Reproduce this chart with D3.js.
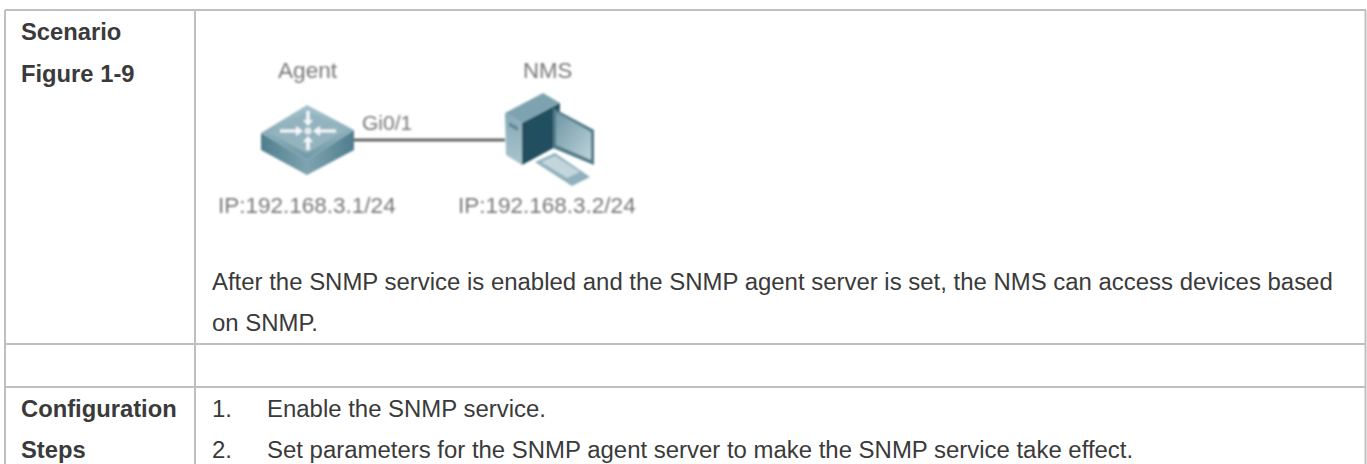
<!DOCTYPE html>
<html><head><meta charset="utf-8">
<script src="https://cdn.jsdelivr.net/npm/d3@7/dist/d3.min.js"></script>
<style>html,body{margin:0;padding:0;background:#fff}svg{display:block}</style>
</head><body><div id="c"></div>
<script>
const headings = ["Scenario","Figure 1-9","Configuration","Steps"];
const bodyLines = ["After the SNMP service is enabled and the SNMP agent server is set, the NMS can access devices based","on SNMP."];
const stepNumbers = ["1.","2."];
const stepLines = ["Enable the SNMP service.","Set parameters for the SNMP agent server to make the SNMP service take effect."];
const diagramLabels = ["Agent","NMS","Gi0/1","IP:192.168.3.1/24","IP:192.168.3.2/24"];

const svg = d3.select("#c").append("svg").attr("width",1367).attr("height",464);
const defs = svg.append("defs");
defs.append("filter").attr("id","blur").attr("x","-10%").attr("y","-10%").attr("width","120%").attr("height","120%")
  .append("feGaussianBlur").attr("stdDeviation",0.8);
const grad=(id,x2,y2,stops)=>{const g=defs.append("linearGradient").attr("id",id).attr("x1",0).attr("y1",0).attr("x2",x2).attr("y2",y2);
  stops.forEach(s=>g.append("stop").attr("offset",s[0]).attr("stop-color",s[1]));};
grad("swTop",0,1,[[0,"#a6c2cc"],[1,"#6f98a6"]]);
grad("swSide",1,0,[[0,"#4f7d8d"],[0.5,"#7fa3af"],[1,"#4f7d8d"]]);
grad("mon",1,1,[[0,"#6f97a5"],[1,"#bcd2d9"]]);
grad("tw",0,1,[[0,"#86aab6"],[1,"#a9c4cd"]]);

const grid = svg.append("g").attr("stroke","#bfbfbf").attr("stroke-width",2);
[[5,10,1366,10],[5,344,1366,344],[5,387,1366,387],[5,10,5,464],[195,10,195,464],[1365.5,10,1365.5,464]]
 .forEach(l=>grid.append("line").attr("x1",l[0]).attr("y1",l[1]).attr("x2",l[2]).attr("y2",l[3]));
const font="'Liberation Sans',Arial,sans-serif";
const T=(s,x,y,o={})=>svg.append("text").text(s).attr("x",x).attr("y",y).attr("font-family",font)
  .attr("font-size",o.size||23.94).attr("font-weight",o.weight||"normal").attr("fill","#3a3a3a");
[40,82,417,458].forEach((y,i)=>T(headings[i],21,y,{weight:"bold",size:23.75}));
T(bodyLines[0],212,290);T(bodyLines[1],212,331);
T(stepNumbers[0],212,417);T(stepNumbers[1],212,458);
T(stepLines[0],267,417);T(stepLines[1],267,458);

const d=svg.append("g").attr("filter","url(#blur)");
const L=(s,x,y,size)=>d.append("text").text(s).attr("x",x).attr("y",y).attr("font-family",font).attr("font-size",size).attr("fill","#777");
L(diagramLabels[0],278,78,22.6);L(diagramLabels[1],523,78,22.2);L(diagramLabels[2],362,130,21);L(diagramLabels[3],218,213,22.5);L(diagramLabels[4],458,213,22.5);
d.append("line").attr("x1",350).attr("x2",505).attr("y1",140).attr("y2",140).attr("stroke","#777").attr("stroke-width",3);
d.append("line").attr("x1",350).attr("x2",505).attr("y1",140).attr("y2",140).attr("stroke","#555").attr("stroke-width",1.4);

const P=(pts,fill)=>d.append("path").attr("d",d3.line()(pts)+"Z").attr("fill",fill);
// switch
P([[261,133],[261,150],[307,175],[354,150],[354,130],[307,160]],"url(#swSide)");
P([[261,133],[307,105],[354,130],[307,160]],"url(#swTop)");
P([[269,133],[307,111],[346,130],[307,153]],"#93b4bf");
const arrow=(x1,y1,x2,y2,w)=>{
  d.append("line").attr("x1",x1).attr("y1",y1).attr("x2",x2).attr("y2",y2).attr("stroke","#f4f8f9").attr("stroke-width",w);};
arrow(280,131,300,131,3);arrow(315,131,336,131,3);arrow(308,111,308,124,3.5);arrow(308,138,308,150,3.5);
P([[296,126],[303,131],[296,136]],"#f4f8f9");P([[320,126],[313,131],[320,136]],"#f4f8f9");
P([[303,120],[313,120],[308,126]],"#f4f8f9");P([[303,142],[313,142],[308,136]],"#f4f8f9");
d.append("circle").attr("cx",308).attr("cy",131).attr("r",3.5).attr("fill","#e4edf0");
// computer
P([[543,93],[560,103],[522,123],[505,113]],"#7ea3b0");
P([[505,113],[522,123],[522,165],[506,155]],"url(#tw)");
P([[522,123],[560,103],[559,145],[522,165]],"#23505f");
P([[509,122],[518,127],[518,131],[509,126]],"#5f8694");
P([[553,108],[594,130],[594,165],[553,148]],"#4f7886");
P([[556,112],[591,132],[591,160],[556,145]],"url(#mon)");
P([[535,162],[555,153],[590,177],[572,186]],"#8fb0bc");
P([[541,162],[555,156],[580,172],[567,178]],"#c3d6dc");
</script></body></html>
